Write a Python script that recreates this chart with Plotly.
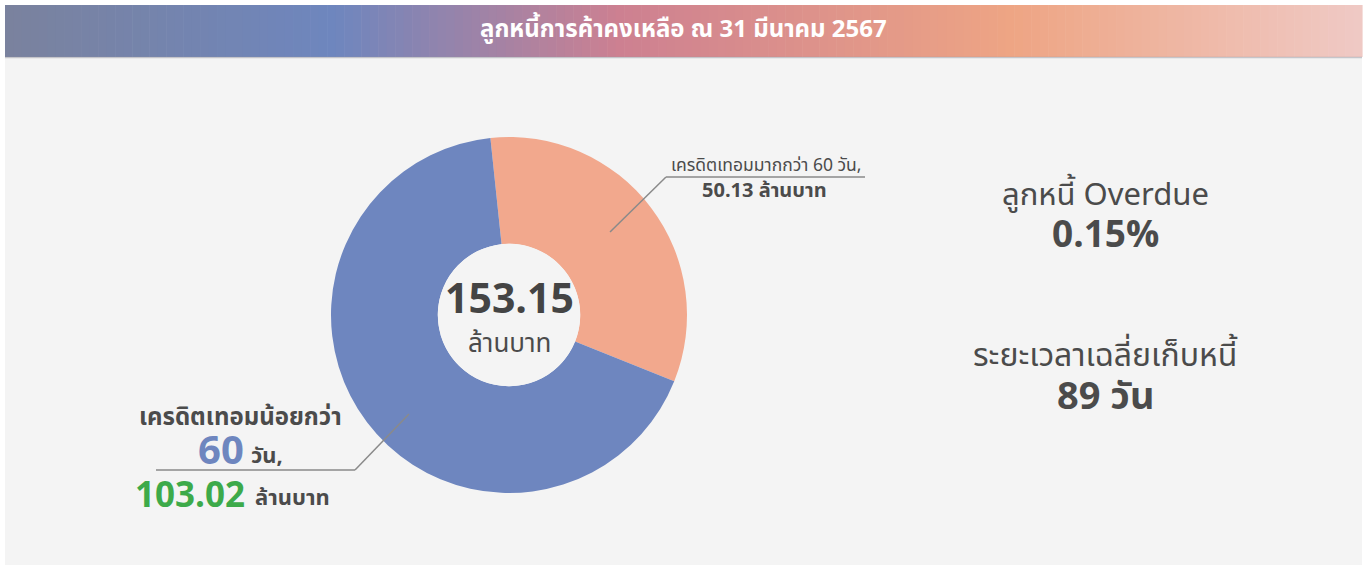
import plotly.graph_objects as go

# ---- data ----
title_text = "ลูกหนี้การค้าคงเหลือ ณ 31 มีนาคม 2567"
labels = ["เครดิตเทอมมากกว่า 60 วัน", "เครดิตเทอมน้อยกว่า 60 วัน"]
values = [50.13, 103.02]
colors = ["#F2A88D", "#6E86BF"]
total_value = 153.15
unit = "ล้านบาท"
short_label = "เครดิตเทอมน้อยกว่า"
short_days = "60"
overdue_label = "ลูกหนี้ Overdue"
overdue_pct = "0.15%"
dso_label = "ระยะเวลาเฉลี่ยเก็บหนี้"
dso_value = "89 วัน"

W, H = 1367, 569
FONT = "Noto Sans Thai, Kanit, Prompt, Noto Sans, sans-serif"
DARK = "#4b4b4b"


def px(x):
    return x / W


def py(y):
    return 1 - y / H


fig = go.Figure()

# pie geometry (pixels)
cx, cy, R = 509, 315, 178
fig.add_trace(go.Pie(
    labels=labels, values=values, sort=False, direction="clockwise",
    rotation=-6, hole=0.40,
    marker=dict(colors=colors, line=dict(width=0)),
    textinfo="none", hoverinfo="label+value", showlegend=False,
    domain=dict(x=[px(cx - R), px(cx + R)], y=[py(cy + R), py(cy - R)]),
))

shapes = []
shapes.append(dict(type="rect", xref="paper", yref="paper", x0=px(5), x1=px(1362),
                   y0=py(565), y1=py(57), fillcolor="#F4F4F4", line=dict(width=0), layer="below"))

# header gradient built from strips
stops = [(0.0, (122, 130, 158)), (0.24, (110, 134, 190)), (0.45, (205, 128, 145)),
         (0.74, (238, 165, 132)), (1.0, (239, 202, 198))]


def grad(t):
    for (t0, c0), (t1, c1) in zip(stops[:-1], stops[1:]):
        if t0 <= t <= t1:
            f = (t - t0) / (t1 - t0)
            return "rgb(%d,%d,%d)" % tuple(round(a + (b - a) * f) for a, b in zip(c0, c1))
    return "rgb(%d,%d,%d)" % stops[-1][1]


N = 160
x_left, x_right = 5, 1362
for i in range(N):
    a = x_left + (x_right - x_left) * i / N
    b = x_left + (x_right - x_left) * (i + 1) / N + 0.6
    shapes.append(dict(type="rect", xref="paper", yref="paper", x0=px(a), x1=px(b),
                       y0=py(57), y1=py(5), fillcolor=grad(i / N), line=dict(width=0), layer="below"))
shapes.append(dict(type="line", xref="paper", yref="paper", x0=px(5), x1=px(1362),
                   y0=py(57.5), y1=py(57.5), line=dict(color="rgba(150,150,160,0.5)", width=1.5)))

hr = R * 0.40
shapes.append(dict(type="circle", xref="paper", yref="paper", x0=px(cx - hr), x1=px(cx + hr),
                   y0=py(cy + hr), y1=py(cy - hr), fillcolor="#F4F4F4", line=dict(width=0), layer="above"))

# leader lines
LC = "#8a8a8a"
for (x0, y0, x1, y1) in [(610, 232, 666, 177), (666, 177, 865, 177),
                         (409, 414, 355, 470), (355, 470, 156, 470)]:
    shapes.append(dict(type="line", xref="paper", yref="paper", x0=px(x0), y0=py(y0), x1=px(x1), y1=py(y1),
                       line=dict(color=LC, width=1.5)))

ann = []


def text(x, y, t, size, color=DARK, bold=False, xanchor="center"):
    s = f"<b>{t}</b>" if bold else t
    ann.append(dict(x=px(x), y=py(y), xref="paper", yref="paper", text=s, showarrow=False,
                    xanchor=xanchor, yanchor="middle", borderpad=0,
                    font=dict(family=FONT, size=size, color=color)))


text(683, 30, title_text, 24, "white", True)
text(509, 300, f"{total_value:.2f}", 41, "#444444", True)
text(509, 344, unit, 26, DARK)

text(766, 165, labels[0] + ",", 17.5, DARK)
text(765, 191, f"{values[0]:.2f} {unit}", 20, DARK, True)

text(240, 418, short_label, 24, DARK, True)
text(245, 452, short_days, 40, "#6E86BF", True, xanchor="right")
text(250, 456, "วัน,", 22, DARK, True, xanchor="left")
text(246, 496, f"{values[1]:.2f}", 35, "#3DAA4A", True, xanchor="right")
text(254, 498, unit, 22, DARK, True, xanchor="left")

text(1105, 195, overdue_label, 31, DARK)
text(1105, 236, overdue_pct, 37, DARK, True)
text(1105, 356, dso_label, 32, DARK)
text(1105, 398, dso_value, 38, DARK, True)

fig.update_layout(
    width=W, height=H, margin=dict(l=0, r=0, t=0, b=0),
    paper_bgcolor="white", plot_bgcolor="white",
    shapes=shapes, annotations=ann, showlegend=False,
)
fig.write_html("out.html", config={"displayModeBar": False},
               post_script="document.body.style.margin='0';document.body.style.overflow='hidden';")
